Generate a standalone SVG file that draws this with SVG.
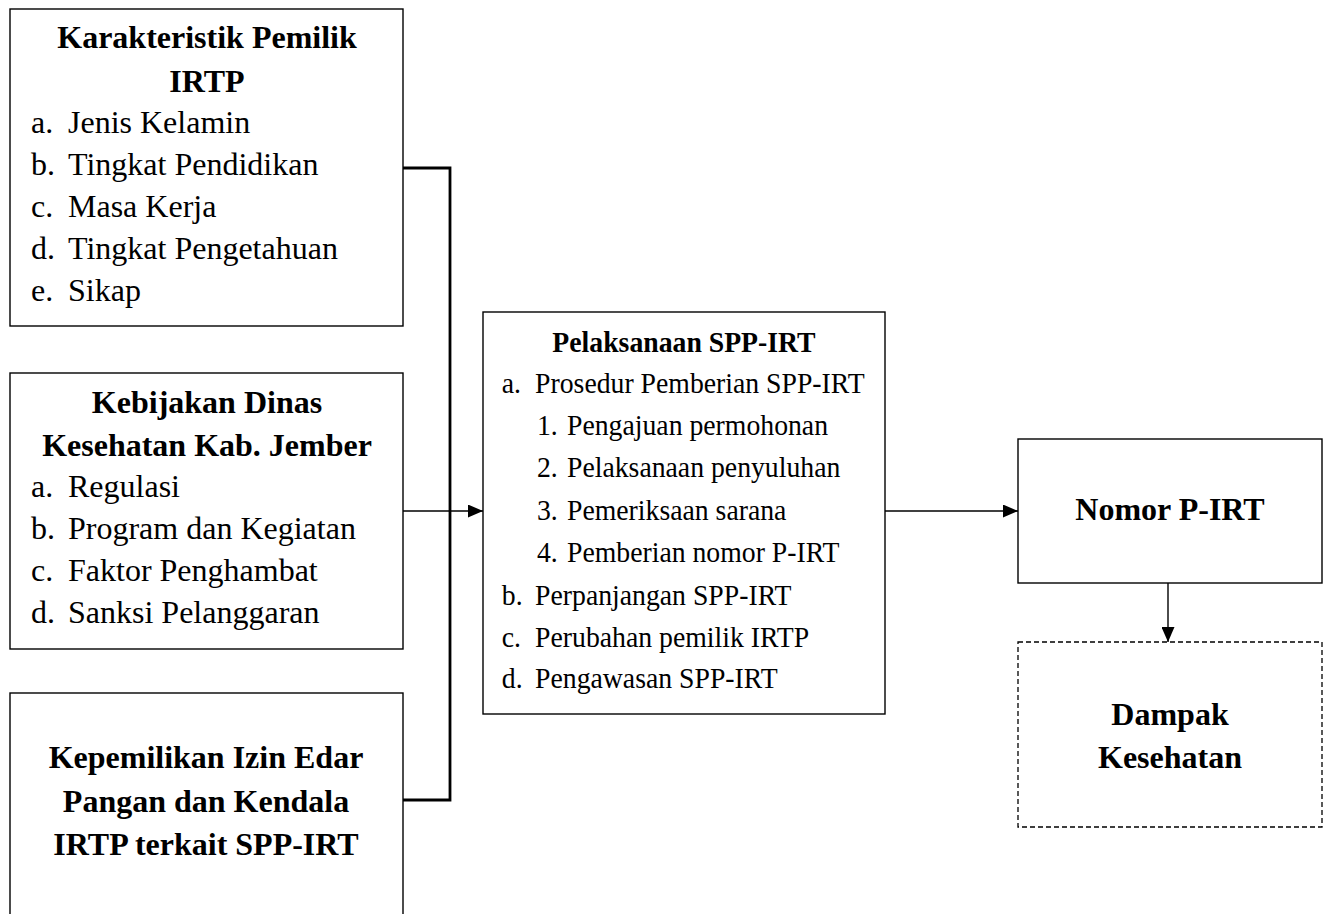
<svg xmlns="http://www.w3.org/2000/svg" width="1328" height="914" viewBox="0 0 1328 914">
<style>
text{font-family:"Liberation Serif","Times New Roman",serif;font-size:32px;fill:#000}
.c text{font-size:30px}
.b{font-weight:bold;text-anchor:middle}
.box{fill:none;stroke:#000;stroke-width:1.4}
.dash{fill:none;stroke:#000;stroke-width:1.3;stroke-dasharray:5 3}
.ln{fill:none;stroke:#000;stroke-width:1.4}
.thick{fill:none;stroke:#000;stroke-width:2.8}
</style>
<defs>
<marker id="ah2" viewBox="0 0 15 13" refX="15" refY="6.5" markerWidth="15" markerHeight="13" markerUnits="userSpaceOnUse" orient="auto">
<path d="M0,0 L15,6.5 L0,13 z" fill="#000"/>
</marker>
</defs>
<rect width="1328" height="914" fill="#fff"/>
<g id="connectors">
<path class="thick" d="M403,168 H450 V800 H403"/>
<line class="ln" x1="403" y1="511" x2="483" y2="511" marker-end="url(#ah2)"/>
<line class="ln" x1="885" y1="511" x2="1018" y2="511" marker-end="url(#ah2)"/>
<line class="ln" x1="1168" y1="583" x2="1168" y2="642" marker-end="url(#ah2)"/>
</g>
<g id="karakteristik">
<rect class="box" x="10" y="9" width="393" height="317"/>
<text class="b" x="207" y="48">Karakteristik Pemilik</text>
<text class="b" x="207" y="92">IRTP</text>
<text x="31" y="133">a.</text><text x="68" y="133">Jenis Kelamin</text>
<text x="31" y="175">b.</text><text x="68" y="175">Tingkat Pendidikan</text>
<text x="31" y="217">c.</text><text x="68" y="217">Masa Kerja</text>
<text x="31" y="259">d.</text><text x="68" y="259">Tingkat Pengetahuan</text>
<text x="31" y="301">e.</text><text x="68" y="301">Sikap</text>
</g>
<g id="kebijakan">
<rect class="box" x="10" y="373" width="393" height="276"/>
<text class="b" x="207" y="413">Kebijakan Dinas</text>
<text class="b" x="207" y="456">Kesehatan Kab. Jember</text>
<text x="31" y="497">a.</text><text x="68" y="497">Regulasi</text>
<text x="31" y="539">b.</text><text x="68" y="539">Program dan Kegiatan</text>
<text x="31" y="581">c.</text><text x="68" y="581">Faktor Penghambat</text>
<text x="31" y="623">d.</text><text x="68" y="623">Sanksi Pelanggaran</text>
</g>
<g id="kepemilikan">
<rect class="box" x="10" y="693" width="393" height="240"/>
<text class="b" x="206" y="768">Kepemilikan Izin Edar</text>
<text class="b" x="206" y="812">Pangan dan Kendala</text>
<text class="b" x="206" y="855">IRTP terkait SPP-IRT</text>
</g>
<g id="pelaksanaan" class="c">
<rect class="box" x="483" y="312" width="402" height="402"/>
<g transform="translate(684,0) scale(0.925,1) translate(-684,0)">
<text class="b" x="684" y="352">Pelaksanaan SPP-IRT</text>
<text x="487" y="393">a.</text><text x="523" y="393">Prosedur Pemberian SPP-IRT</text>
<text x="525" y="435">1.</text><text x="557.5" y="435">Pengajuan permohonan</text>
<text x="525" y="477">2.</text><text x="557.5" y="477">Pelaksanaan penyuluhan</text>
<text x="525" y="520">3.</text><text x="557.5" y="520">Pemeriksaan sarana</text>
<text x="525" y="562">4.</text><text x="557.5" y="562">Pemberian nomor P-IRT</text>
<text x="487" y="605">b.</text><text x="523" y="605">Perpanjangan SPP-IRT</text>
<text x="487" y="647">c.</text><text x="523" y="647">Perubahan pemilik IRTP</text>
<text x="487" y="688">d.</text><text x="523" y="688">Pengawasan SPP-IRT</text>
</g>
</g>
<g id="nomor">
<rect class="box" x="1018" y="439" width="304" height="144"/>
<text class="b" x="1170" y="520">Nomor P-IRT</text>
</g>
<g id="dampak">
<rect class="dash" x="1018" y="642" width="304" height="185"/>
<text class="b" x="1170" y="725">Dampak</text>
<text class="b" x="1170" y="768">Kesehatan</text>
</g>
</svg>
